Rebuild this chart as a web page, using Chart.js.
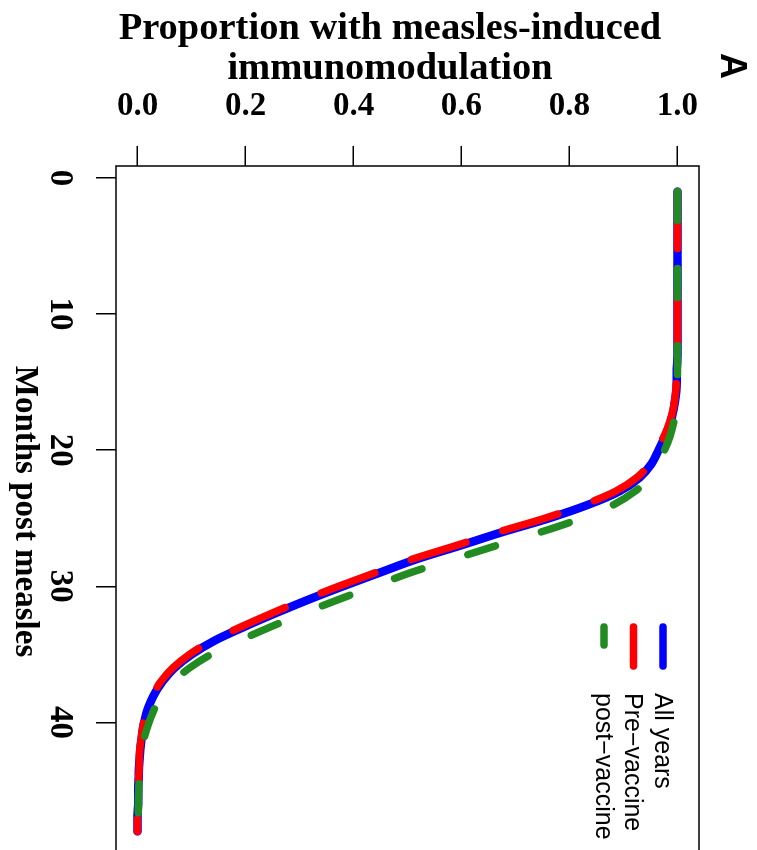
<!DOCTYPE html>
<html>
<head>
<meta charset="utf-8">
<title>Measles-induced immunomodulation</title>
<script src="https://cdn.jsdelivr.net/npm/chart.js@4.4.0/dist/chart.umd.min.js"></script>
<style>
  html, body { margin: 0; padding: 0; background: #fff; overflow: hidden; }
  /* the plot is laid out the usual way and then turned a quarter turn clockwise */
  #wrap {
    position: absolute; left: 0; top: 0;
    width: 870px; height: 757px;
    transform-origin: 0 0;
    transform: translateX(757px) rotate(90deg);
  }
</style>
</head>
<body>
<div id="wrap"><canvas id="curveChart" width="870" height="757"></canvas></div>
<script>
// months after measles infection
const months = [1, 2, 3, 4, 5, 6, 7, 8, 9, 10, 11, 12, 13, 14, 15, 16,
  17, 18, 19, 20, 21, 22, 23, 24, 25, 26, 27, 28, 29, 30, 31, 32,
  33, 34, 35, 36, 37, 38, 39, 40, 41, 42, 43, 44, 45, 46, 47, 48];

// proportion still immunomodulated
const allYears = [1, 1, 1, 1, 1, 1, 1, 1, 1, 1, 1, 1, 1, 0.999, 0.999, 0.997,
  0.993, 0.987, 0.977, 0.965, 0.952, 0.93, 0.893, 0.835, 0.762, 0.677, 0.598, 0.517, 0.448, 0.38, 0.315, 0.254,
  0.196, 0.142, 0.1, 0.068, 0.046, 0.03, 0.019, 0.012, 0.008, 0.005, 0.003, 0.002, 0.001, 0.001, 0, 0];
const preVaccine = [1, 1, 1, 1, 1, 1, 1, 1, 1, 1, 1, 1, 1, 0.999, 0.998, 0.996,
  0.992, 0.985, 0.975, 0.962, 0.948, 0.925, 0.886, 0.827, 0.754, 0.669, 0.59, 0.509, 0.44, 0.372, 0.307, 0.247,
  0.19, 0.137, 0.096, 0.065, 0.043, 0.028, 0.017, 0.011, 0.007, 0.004, 0.003, 0.002, 0.001, 0.001, 0, 0];
const postVaccine = [1, 1, 1, 1, 1, 1, 1, 1, 1, 1, 1, 1, 1, 1, 1, 0.999,
  0.997, 0.993, 0.986, 0.976, 0.963, 0.948, 0.922, 0.882, 0.822, 0.748, 0.665, 0.585, 0.505, 0.438, 0.37, 0.306,
  0.245, 0.188, 0.136, 0.096, 0.066, 0.045, 0.031, 0.021, 0.013, 0.008, 0.005, 0.003, 0.002, 0.001, 0.001, 0];

const monthTicks = [0, 10, 20, 30, 40];
const propTicks = [0, 0.2, 0.4, 0.6, 0.8, 1.0];

const seriesNames = ['All years', 'Pre\u2212vaccine', 'post\u2212vaccine'];
const seriesColors = ['#0000ff', '#ff0000', '#228b22'];
const xTitle = 'Months post measles';
const yTitle = ['Proportion with measles-induced', 'immunomodulation'];
const panelLetter = 'A';

function points(values) {
  return months.map((m, i) => ({ x: m, y: values[i] }));
}

// box, titles, legend and panel letter
const decorations = {
  id: 'decorations',
  afterDatasetsDraw(chart) {
    const ctx = chart.ctx;
    const a = chart.chartArea;
    ctx.save();
    ctx.strokeStyle = '#000';
    ctx.lineWidth = 1.5;
    ctx.strokeRect(a.left, a.top, a.right - a.left, a.bottom - a.top);

    ctx.fillStyle = '#000';
    ctx.textAlign = 'center';
    ctx.textBaseline = 'middle';

    // y title, two lines, reading upwards
    ctx.font = 'bold 38.5px "Liberation Serif"';
    [[29, yTitle[0]], [69, yTitle[1]]].forEach(([x, t]) => {
      ctx.save();
      ctx.translate(x, 367);
      ctx.rotate(-Math.PI / 2);
      ctx.fillText(t, 0, 0);
      ctx.restore();
    });

    // x title
    ctx.font = 'bold 33px "Liberation Serif"';
    ctx.fillText(xTitle, (a.left + a.right) / 2, 732);

    // panel letter
    ctx.font = 'bold 36px "Liberation Sans"';
    ctx.fillText(panelLetter, 66, 26);

    // legend, no box
    const lineEnds = [666, 666, 645];
    ctx.lineCap = 'round';
    ctx.lineWidth = 7.5;
    ctx.textAlign = 'left';
    ctx.textBaseline = 'alphabetic';
    ctx.font = '25px "Liberation Sans"';
    seriesNames.forEach((name, i) => {
      const y = 94 + i * 29.5;
      ctx.strokeStyle = seriesColors[i];
      ctx.beginPath();
      ctx.moveTo(627, y);
      ctx.lineTo(lineEnds[i], y);
      ctx.stroke();
      ctx.fillText(name, 693, y + 8);
    });
    ctx.restore();
  }
};

const tickFont = { family: 'Liberation Serif', size: 33, weight: 'bold' };

new Chart(document.getElementById('curveChart'), {
  type: 'line',
  data: {
    datasets: [
      {
        label: seriesNames[0],
        data: points(allYears),
        borderColor: seriesColors[0],
        borderWidth: 8.5,
        order: 3
      },
      {
        label: seriesNames[1],
        data: points(preVaccine),
        borderColor: seriesColors[1],
        borderWidth: 7.5,
        borderDash: [57, 39],
        order: 2
      },
      {
        label: seriesNames[2],
        data: points(postVaccine),
        borderColor: seriesColors[2],
        borderWidth: 7.5,
        borderDash: [29, 48],
        order: 1
      }
    ]
  },
  options: {
    responsive: false,
    animation: false,
    devicePixelRatio: 1,
    layout: { padding: { top: 58, right: 13, left: 0, bottom: 0 } },
    elements: {
      point: { radius: 0 },
      line: {
        cubicInterpolationMode: 'monotone',
        borderCapStyle: 'round',
        borderJoinStyle: 'round',
        fill: false
      }
    },
    plugins: {
      legend: { display: false },
      tooltip: { enabled: false },
      title: { display: false }
    },
    scales: {
      x: {
        type: 'linear',
        position: 'bottom',
        min: -0.88,
        max: 49.88,
        afterBuildTicks: s => { s.ticks = monthTicks.map(v => ({ value: v })); },
        afterFit: s => { s.height = 116; },
        border: { display: false },
        grid: { drawOnChartArea: false, drawTicks: true, tickLength: 20, color: '#000', lineWidth: 1.5 },
        ticks: { color: '#000', font: tickFont, padding: 17, maxRotation: 0, autoSkip: false }
      },
      y: {
        type: 'linear',
        position: 'left',
        min: -0.04,
        max: 1.04,
        afterBuildTicks: s => { s.ticks = propTicks.map(v => ({ value: v })); },
        afterFit: s => { s.width = 166; },
        border: { display: false },
        grid: { drawOnChartArea: false, drawTicks: true, tickLength: 20, color: '#000', lineWidth: 1.5 },
        ticks: {
          color: '#000',
          font: tickFont,
          padding: 19,
          minRotation: 90,
          maxRotation: 90,
          crossAlign: 'center',
          autoSkip: false,
          callback: v => v.toFixed(1)
        }
      }
    }
  },
  plugins: [decorations]
});
</script>
</body>
</html>
